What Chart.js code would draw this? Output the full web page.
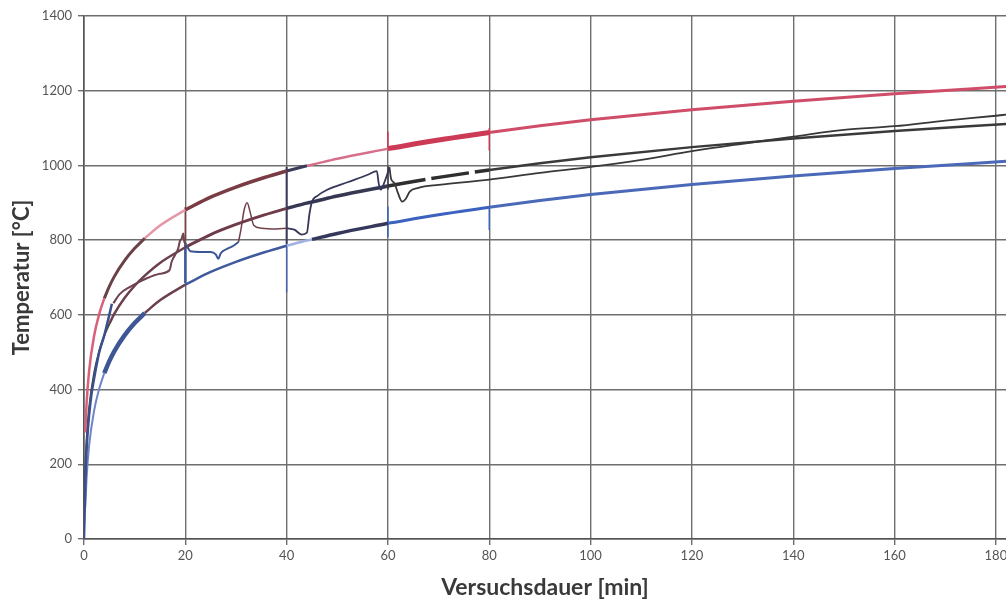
<!DOCTYPE html>
<html>
<head>
<meta charset="utf-8">
<script src="https://cdn.jsdelivr.net/npm/chart.js@4"></script>
<style>
  html, body { margin: 0; padding: 0; background: #fff; }
</style>
</head>
<body>
<canvas id="fireChart" width="1006" height="602"></canvas>
<script>
// Reference curves (time in min, temperature in °C)
const refTime   = [0, 0.25, 0.5, 1, 2, 3, 4, 5, 6, 8, 10, 12, 15, 20, 25, 30, 35, 40, 44, 45, 50, 60, 70, 80, 90, 100, 120, 140, 160, 182];
const isoTemp   = [20, 185, 261, 349, 444, 502, 544, 576, 603, 645, 678, 705, 739, 781, 815, 842, 865, 885, 899, 902, 918, 945, 968, 988, 1006, 1022, 1049, 1072, 1092, 1111];
const upperTemp = [null, 285, 361, 449, 544, 602, 644, 676, 703, 745, 778, 805, 839, 881, 915, 942, 965, 985, 999, 1002, 1018, 1045, 1068, 1088, 1106, 1122, 1149, 1172, 1192, 1211];
const lowerTemp = [null, 85, 161, 249, 344, 402, 444, 476, 503, 545, 578, 605, 639, 681, 715, 742, 765, 785, 799, 802, 818, 845, 868, 888, 906, 922, 949, 972, 992, 1011];

// Measured furnace curves
const m0Time = [0, 0.3, 0.6, 1, 1.5, 2, 3, 4, 4.5, 5, 5.5];
const m0Temp = [0, 170, 260, 330, 390, 430, 500, 545, 572, 600, 630];
const m1Time = [5.8, 7, 9.1, 12.4, 15, 16.9, 17.3, 18.6, 18.9, 19.3, 19.6, 19.8, 20.2];
const m1Temp = [631, 655, 675, 698, 710, 720, 742, 778, 796, 805, 818, 795, 790];
const m2Time = [20.3, 21, 23, 25, 26, 26.5, 27, 28, 29.5, 30.5];
const m2Temp = [785, 770, 768, 768, 762, 750, 765, 775, 785, 795];
const m3Time = [30.5, 31, 31.6, 32.2, 32.8, 33.5, 35, 38, 40];
const m3Temp = [795, 830, 880, 900, 875, 840, 832, 830, 832];
const m4Time = [40, 41.5, 43, 44, 44.5, 45, 46, 48, 52, 56, 57.8, 58.2, 58.6, 59.3, 60, 60.3];
const m4Temp = [832, 828, 815, 820, 870, 903, 918, 935, 955, 975, 985, 950, 935, 955, 982, 995];
const m5Time = [60.3, 60.6, 61.3, 62, 62.8, 63.5, 64.3, 66, 70, 80, 90, 100, 110, 120, 130, 140, 150, 160, 170, 180, 182];
const m5Temp = [995, 965, 952, 925, 903, 910, 930, 940, 948, 962, 980, 996, 1015, 1038, 1058, 1077, 1095, 1105, 1120, 1133, 1136];

// Vertical jumps where the test sections meet
const jumpTime = [20, 20, 40, 40, 60, 60, 60, 80, 80];
const jumpFrom = [800, 685, 790, 660, 935, 808, 1040, 1040, 827];
const jumpTo   = [889, 792, 996, 790, 1000, 890, 1090, 1100, 889];

// Tick values
const xTicks = [0, 20, 40, 60, 80, 100, 120, 140, 160, 180];
const yTicks = [0, 200, 400, 600, 800, 1000, 1200, 1400];

// styles: [from, to, colour, width, dash]
const upperStyle = [
  [0, 4, '#d9607a', 2.5], [4, 12, '#6b4148', 3], [12, 20, '#e597a6', 2.5],
  [20, 40, '#7a3c44', 3.5], [40, 44, '#3b3c5a', 3], [44, 60, '#d6708a', 2.5],
  [60, 80, '#cc3a55', 5], [80, 182, '#cf4d68', 3]
];
const isoStyle = [
  [0, 5, '#3e4a40', 2], [5, 20, '#6b3f4c', 2.5], [20, 40, '#6e3c48', 3],
  [40, 60, '#363852', 3.5], [60, 80, '#2e2e2e', 3.5, [38, 6]], [80, 182, '#3a3a3a', 2.5]
];
const lowerStyle = [
  [0, 4, '#7085c8', 2], [4, 12, '#3e5694', 4.5], [12, 20, '#6c4050', 2.5],
  [20, 40, '#3f5a9c', 2.5], [40, 45, '#9fb2e0', 2.5], [45, 60, '#35385a', 3.5],
  [60, 80, '#3b62bf', 3], [80, 182, '#4a69b8', 3]
];
const jumpStyle = [
  ['#7a3c44', 1.5], ['#3f5a9c', 2.5], ['#3a3c58', 2], ['#4a64b0', 1.5],
  ['#555555', 2], ['#3b62bf', 1.5], ['#cc3a55', 1.5], ['#cc3a55', 1.5], ['#3b62bf', 1.5]
];

function toPoints(xs, ys) {
  return xs.map((x, i) => ({ x: x, y: ys[i] })).filter(p => p.y !== null);
}

function slice(xs, ys, from, to) {
  return toPoints(xs, ys).filter(p => p.x >= from && p.x <= to);
}

const datasets = [];

function addLine(data, color, width, dash, smooth) {
  datasets.push({
    data: data,
    borderColor: color,
    borderWidth: width,
    borderDash: dash || [],
    pointRadius: 0,
    fill: false,
    cubicInterpolationMode: smooth ? 'monotone' : 'default',
    tension: 0
  });
}

// measured curves (thin)
addLine(toPoints(m0Time, m0Temp), '#3b4f8c', 2.5, null, true);
addLine(toPoints(m1Time, m1Temp), '#6e4450', 2, null, true);
addLine(toPoints(m2Time, m2Temp), '#3b5596', 2, null, true);
addLine(toPoints(m3Time, m3Temp), '#70404a', 1.5, null, true);
addLine(toPoints(m4Time, m4Temp), '#35375a', 1.8, null, true);
addLine(toPoints(m5Time, m5Temp), '#383838', 1.8, null, true);

// reference curves in coloured sections
upperStyle.forEach(s => addLine(slice(refTime, upperTemp, s[0], s[1]), s[2], s[3], s[4], true));
isoStyle.forEach(s => addLine(slice(refTime, isoTemp, s[0], s[1]), s[2], s[3], s[4], true));
lowerStyle.forEach(s => addLine(slice(refTime, lowerTemp, s[0], s[1]), s[2], s[3], s[4], true));

// vertical jumps
jumpTime.forEach((t, i) => {
  addLine([{ x: t, y: jumpFrom[i] }, { x: t, y: jumpTo[i] }], jumpStyle[i][0], jumpStyle[i][1], null, false);
});

const gridColor = '#6e6e6e';

new Chart(document.getElementById('fireChart'), {
  type: 'line',
  data: { datasets: datasets },
  options: {
    responsive: false,
    animation: false,
    layout: { padding: { top: 16, right: 0, bottom: 0, left: 0 } },
    plugins: {
      legend: { display: false },
      tooltip: { enabled: false }
    },
    scales: {
      x: {
        type: 'linear',
        min: 0,
        max: 182,
        afterBuildTicks: scale => { scale.ticks = xTicks.map(v => ({ value: v })); },
        afterFit: scale => { scale.height = 63; scale.paddingLeft = 0; scale.paddingRight = 0; },
        ticks: { color: '#555', font: { family: 'Lato', size: 13 }, padding: 3, maxRotation: 0, callback: v => String(v) },
        grid: { color: gridColor, lineWidth: 1.4, tickLength: 6 },
        border: { color: '#555', width: 1.6 },
        title: {
          display: true,
          text: 'Versuchsdauer [min]',
          color: '#3a3a3a',
          font: { family: 'Lato', size: 23, weight: 'bold' },
          padding: { top: 0, bottom: 1 }
        }
      },
      y: {
        min: 0,
        max: 1400,
        afterBuildTicks: scale => { scale.ticks = yTicks.map(v => ({ value: v })); },
        afterFit: scale => { scale.width = 84; },
        ticks: { color: '#555', font: { family: 'Lato', size: 13 }, padding: 6, callback: v => String(v) },
        grid: { color: gridColor, lineWidth: 1.4, tickLength: 6 },
        border: { color: '#555', width: 1.6 },
        title: {
          display: true,
          text: 'Temperatur [°C]',
          color: '#3a3a3a',
          font: { family: 'Lato', size: 22, weight: 'bold' },
          padding: { top: 9, bottom: 0 }
        }
      }
    }
  }
});
</script>
</body>
</html>
